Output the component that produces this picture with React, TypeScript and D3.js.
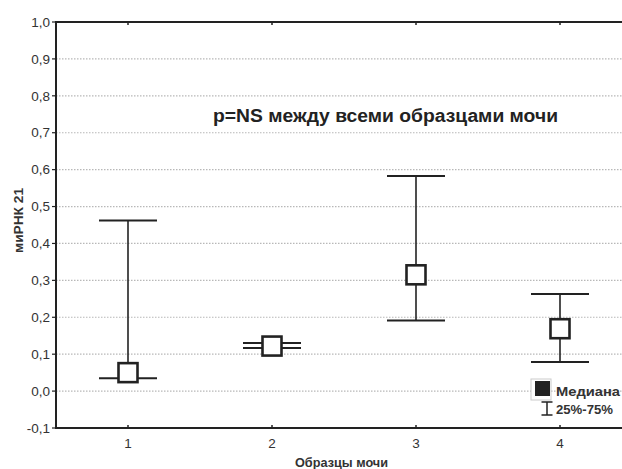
import React from "react";
import * as d3 from "d3";

const categories = ["1", "2", "3", "4"];
const medians = [0.05, 0.122, 0.315, 0.169];
const q25 = [0.035, 0.117, 0.191, 0.079];
const q75 = [0.462, 0.13, 0.583, 0.263];
const yTicks = [-0.1, 0, 0.1, 0.2, 0.3, 0.4, 0.5, 0.6, 0.7, 0.8, 0.9, 1.0];
const gridTicks = [0, 0.1, 0.2, 0.3, 0.4, 0.5, 0.6, 0.7, 0.8, 0.9];
const title = "p=NS между всеми образцами мочи";
const xLabel = "Образцы мочи";
const yLabel = "миРНК 21";
const legendMedian = "Медиана";
const legendRange = "25%-75%";

const W = 622, H = 469;
const M = { left: 56, top: 22, right: 632, bottom: 428 };
const FONT = "'Liberation Sans', Arial, sans-serif";
const INK = "#222";

export default function App() {
  const x = d3.scaleLinear().domain([0.5, 4.5]).range([M.left, M.right]);
  const y = d3.scaleLinear().domain([-0.1, 1.0]).range([M.bottom, M.top]);
  const fmt = (v: number) => d3.format(".1f")(v).replace(".", ",").replace("−", "-");
  const box = 19;
  const cap = 58;
  return (
    <svg width={W} height={H} style={{ position: "absolute", left: 0, top: 0, background: "#fff" }}>
      {gridTicks.map((t) => (
        <line key={"g" + t} x1={M.left} x2={W} y1={y(t)} y2={y(t)} stroke="#b8b8b8" strokeWidth={1.2} strokeDasharray="1.5,1.5" />
      ))}
      {/* axes */}
      <line x1={M.left} x2={M.left} y1={M.top - 1} y2={M.bottom + 1} stroke={INK} strokeWidth={2} />
      <line x1={M.left - 1} x2={W} y1={M.bottom} y2={M.bottom} stroke={INK} strokeWidth={2} />
      <line x1={M.left - 1} x2={W} y1={M.top} y2={M.top} stroke={INK} strokeWidth={2} />
      {yTicks.map((t) => (
        <g key={"y" + t}>
          <line x1={M.left - 4} x2={M.left} y1={y(t)} y2={y(t)} stroke={INK} strokeWidth={1.2} />
          <text x={M.left - 6} y={y(t)} dy="0.35em" textAnchor="end" fontFamily={FONT} fontSize={13.5} fill="#333">
            {fmt(t)}
          </text>
        </g>
      ))}
      {categories.map((c, i) => (
        <g key={"x" + c}>
          <line x1={x(i + 1)} x2={x(i + 1)} y1={M.bottom} y2={M.bottom - 3} stroke={INK} strokeWidth={1.5} />
          <line x1={x(i + 1)} x2={x(i + 1)} y1={M.top} y2={M.top + 3} stroke={INK} strokeWidth={1.5} />
          <text x={x(i + 1)} y={448} textAnchor="middle" fontFamily={FONT} fontSize={13.5} fill="#333">
            {c}
          </text>
        </g>
      ))}
      {/* whiskers and medians */}
      {categories.map((c, i) => {
        const cx = x(i + 1);
        return (
          <g key={"d" + c}>
            <line x1={cx} x2={cx} y1={y(q75[i])} y2={y(q25[i])} stroke={INK} strokeWidth={1.6} />
            <line x1={cx - cap / 2} x2={cx + cap / 2} y1={y(q75[i])} y2={y(q75[i])} stroke={INK} strokeWidth={2} />
            <line x1={cx - cap / 2} x2={cx + cap / 2} y1={y(q25[i])} y2={y(q25[i])} stroke={INK} strokeWidth={2} />
            <rect x={cx - box / 2} y={y(medians[i]) - box / 2} width={box} height={box} fill="#fff" stroke={INK} strokeWidth={2.6} />
          </g>
        );
      })}
      {/* title */}
      <text x={385.5} y={121.5} textAnchor="middle" fontFamily={FONT} fontWeight="bold" fontSize={18} fill="#222" textLength={345} lengthAdjust="spacingAndGlyphs">
        {title}
      </text>
      {/* axis labels */}
      <text x={341.5} y={467} textAnchor="middle" fontFamily={FONT} fontWeight="bold" fontSize={13} fill="#333" textLength={93} lengthAdjust="spacingAndGlyphs">
        {xLabel}
      </text>
      <text transform={`translate(23,${220.5}) rotate(-90)`} textAnchor="middle" fontFamily={FONT} fontWeight="bold" fontSize={13.5} fill="#333" textLength={65} lengthAdjust="spacingAndGlyphs">
        {yLabel}
      </text>
      {/* legend */}
      <rect x={531} y={379} width={20} height={21} fill="#fff" stroke="#ccc" strokeWidth={1} />
      <rect x={535} y={381} width={15} height={15} fill="#222" />
      <text x={556} y={396} fontFamily={FONT} fontWeight="bold" fontSize={13} fill="#333" textLength={64} lengthAdjust="spacingAndGlyphs">
        {legendMedian}
      </text>
      <line x1={547} x2={547} y1={402} y2={415} stroke={INK} strokeWidth={1.5} />
      <line x1={541.5} x2={552.5} y1={402} y2={402} stroke={INK} strokeWidth={1.5} />
      <line x1={541.5} x2={552.5} y1={415} y2={415} stroke={INK} strokeWidth={1.5} />
      <text x={556} y={414} fontFamily={FONT} fontWeight="bold" fontSize={13} fill="#333" textLength={57} lengthAdjust="spacingAndGlyphs">
        {legendRange}
      </text>
    </svg>
  );
}
